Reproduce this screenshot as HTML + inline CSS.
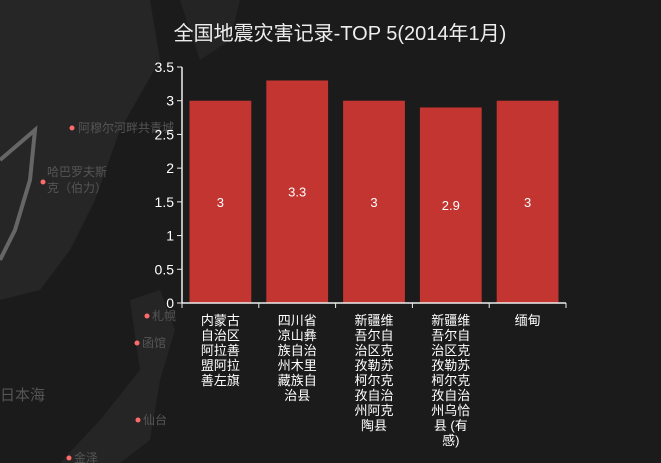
<!DOCTYPE html>
<html><head><meta charset="utf-8"><style>
html,body{margin:0;padding:0;background:#1b1b1b;}
svg{display:block;font-family:"Liberation Sans","Noto Sans CJK SC",sans-serif;}
</style></head><body>
<svg id="c" width="661" height="463">
<g>
<rect width="661" height="463" fill="#1b1b1b"/>
<path d="M0,0 L150,0 L160,60 L120,130 L95,200 L70,250 L40,290 L0,300 Z" fill="#262626"/>
<path d="M180,0 L240,0 L230,40 L200,60 Z" fill="#242424"/>
<path d="M130,300 L160,290 L175,330 L160,380 L150,440 L120,463 L60,463 L100,420 L140,370 Z" fill="#252525"/>
<path d="M0,160 L35,130 L30,180 L15,230 L0,260" fill="none" stroke="#666" stroke-width="4"/>
<circle cx="72" cy="128" r="2.5" fill="#ff6b6b"/>
<text x="78" y="132" font-size="12" fill="#555">阿穆尔河畔共青城</text>
<circle cx="43" cy="182" r="2.5" fill="#ff6b6b"/>
<text x="47" y="176" font-size="12" fill="#555">哈巴罗夫斯</text>
<text x="47" y="192" font-size="12" fill="#555">克（伯力）</text>
<circle cx="147" cy="316" r="2.5" fill="#ff6b6b"/><text x="152" y="320" font-size="12" fill="#555">札幌</text>
<circle cx="137" cy="343" r="2.5" fill="#ff6b6b"/><text x="142" y="347" font-size="12" fill="#555">函馆</text>
<circle cx="138" cy="420" r="2.5" fill="#ff6b6b"/><text x="143" y="424" font-size="12" fill="#555">仙台</text>
<circle cx="69" cy="458" r="2.5" fill="#ff6b6b"/><text x="74" y="462" font-size="12" fill="#555">金泽</text>
<text x="0" y="400" font-size="15" fill="#555">日本海</text>
</g>
<text x="340" y="40" text-anchor="middle" font-size="20" fill="#eeeeee">全国地震灾害记录-TOP 5(2014年1月)</text>
<g id="plot"></g>
</svg>
<script>
const categories=["内蒙古自治区阿拉善盟阿拉善左旗","四川省凉山彝族自治州木里藏族自治县","新疆维吾尔自治区克孜勒苏柯尔克孜自治州阿克陶县","新疆维吾尔自治区克孜勒苏柯尔克孜自治州乌恰县 (有感)","缅甸"];
const magnitudes=[3,3.3,3,2.9,3];
const yTicks=[0,0.5,1,1.5,2,2.5,3,3.5];
const x0=182,x1=566,yb=303,yt=67,ymax=3.5;
const ns="http://www.w3.org/2000/svg";
const g=document.getElementById('plot');
function y(v){return yb-(v/ymax)*(yb-yt);}
const bw=(x1-x0)/categories.length;
function mk(t,a,p){const e=document.createElementNS(ns,t);for(const k in a)e.setAttribute(k,a[k]);(p||g).appendChild(e);return e;}
function wrap(s){const out=[];let i=0;const chars=[...s];let cur="";for(const ch of chars){cur+=ch;if(cur.length>=4&&[...cur].length>=4){}}
 let arr=[...s],lines=[];let line="";for(let k=0;k<arr.length;k++){line+=arr[k];let w=0;for(const c of line)w+=(c.charCodeAt(0)>255?1:0.5);if(w>=3){lines.push(line);line="";}}if(line)lines.push(line);return lines;}
// bars
magnitudes.forEach((v,i)=>{
 const bx=x0+i*bw+7.5;
 const r=mk('rect',{x:bx,y:y(v),width:bw-15,height:yb-y(v),fill:'#c23531'});
 
 
 const t=mk('text',{x:x0+(i+0.5)*bw,y:(y(v)+yb)/2+5,'text-anchor':'middle','font-size':13,fill:'#fff'});
 t.textContent=v;
 
 
 wrap(categories[i]).forEach((ln,j)=>{
  const l=mk('text',{x:x0+(i+0.5)*bw,y:325+j*15,'text-anchor':'middle','font-size':13,fill:'#fff'});
  l.textContent=ln;
  
  
 });
});
// axes
const ya=mk('line',{x1:x0,y1:yt,x2:x0,y2:yb,stroke:'#eee','stroke-width':1.5});


const xa=mk('line',{x1:x0,y1:yb,x2:x1,y2:yb,stroke:'#eee','stroke-width':1.5});


yTicks.forEach(v=>{
 mk('line',{x1:x0-5,y1:y(v),x2:x0,y2:y(v),stroke:'#eee'});
 const t=mk('text',{x:x0-8,y:y(v)+5,'text-anchor':'end','font-size':14,fill:'#fff'});
 t.textContent=v;
 
 
});
for(let i=0;i<=categories.length;i++)mk('line',{x1:x0+i*bw,y1:yb,x2:x0+i*bw,y2:yb+5,stroke:'#eee'});
</script>
</body></html>
